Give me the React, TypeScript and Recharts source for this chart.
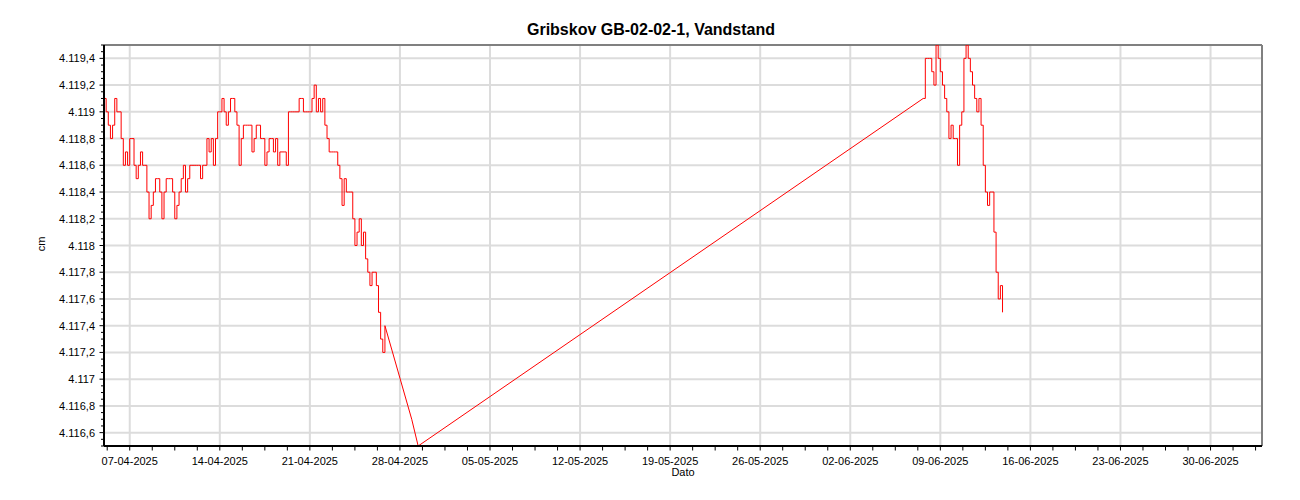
import React from 'react';
import { LineChart, Line, XAxis, YAxis, CartesianGrid, ReferenceLine } from 'recharts';

const HOUR = 3600000;

// ---- data ----
const aprilStart = '2025-04-05T00:00:00Z';
const juneStart = '2025-06-07T16:00:00Z';
const sampleStepHours = 4;

const aprilValues = [
  4119.1, 4119.0, 4118.9, 4118.8, 4118.9, 4119.1, 4119.0, 4119.0, 4118.8, 4118.6,
  4118.7, 4118.6, 4118.8, 4118.8, 4118.6, 4118.5, 4118.6, 4118.7, 4118.6, 4118.6,
  4118.4, 4118.2, 4118.3, 4118.4, 4118.5, 4118.5, 4118.4, 4118.2, 4118.4, 4118.5,
  4118.5, 4118.5, 4118.4, 4118.2, 4118.3, 4118.4, 4118.5, 4118.6, 4118.4, 4118.5,
  4118.6, 4118.6, 4118.6, 4118.6, 4118.6, 4118.5, 4118.6, 4118.6, 4118.8, 4118.7,
  4118.8, 4118.6, 4118.8, 4119.0, 4119.0, 4119.1, 4119.0, 4118.9, 4119.0, 4119.1,
  4119.1, 4119.0, 4118.9, 4118.6, 4118.8, 4118.9, 4118.9, 4118.9, 4118.9, 4118.7,
  4118.8, 4118.9, 4118.9, 4118.8, 4118.8, 4118.6, 4118.7, 4118.8, 4118.8, 4118.7,
  4118.8, 4118.6, 4118.7, 4118.7, 4118.7, 4118.6, 4119.0, 4119.0, 4119.0, 4119.0,
  4119.0, 4119.1, 4119.1, 4119.0, 4119.0, 4119.0, 4119.0, 4119.1, 4119.2, 4119.0,
  4119.1, 4119.0, 4119.1, 4118.9, 4118.8, 4118.7, 4118.7, 4118.7, 4118.7, 4118.6,
  4118.5, 4118.3, 4118.5, 4118.4, 4118.4, 4118.4, 4118.2, 4118.0, 4118.1, 4118.2,
  4118.0, 4118.1, 4117.9, 4117.8, 4117.7, 4117.8, 4117.8, 4117.7, 4117.5, 4117.3,
  4117.2, 4117.4,
];

const gapTimes = ['2025-04-28T22:00:00Z', '2025-04-29T10:00:00Z'];
const gapValues = [4116.7, 4116.5];

const juneValues = [
  4119.1, 4119.4, 4119.4, 4119.4, 4119.3, 4119.2, 4119.5, 4119.4, 4119.3, 4119.2,
  4119.1, 4119.0, 4118.8, 4118.9, 4118.8, 4118.8, 4118.6, 4118.9, 4119.0, 4119.4,
  4119.5, 4119.4, 4119.3, 4119.2, 4119.1, 4119.0, 4119.1, 4118.9, 4118.6, 4118.4,
  4118.3, 4118.4, 4118.4, 4118.1, 4117.8, 4117.6, 4117.7, 4117.5,
];

// ---- axes ----
const xDomainStart = '2025-04-05T00:00:00Z';
const xDomainEnd = '2025-07-04T00:00:00Z';
const xMajorTickDates = [
  '2025-04-07', '2025-04-14', '2025-04-21', '2025-04-28', '2025-05-05', '2025-05-12',
  '2025-05-19', '2025-05-26', '2025-06-02', '2025-06-09', '2025-06-16', '2025-06-23',
  '2025-06-30',
];
const xMinorStepHours = 42;
const yDomain = [4116.5, 4119.5];
const yMajorTicks = [
  4116.6, 4116.8, 4117, 4117.2, 4117.4, 4117.6, 4117.8, 4118, 4118.2, 4118.4,
  4118.6, 4118.8, 4119, 4119.2, 4119.4,
];
const yMinorStep = 0.05;

const titleText = 'Gribskov GB-02-02-1, Vandstand';
const xLabelText = 'Dato';
const yLabelText = 'cm';

// ---- build ----
const t0 = Date.parse(aprilStart);
const tJ = Date.parse(juneStart);
const stepMs = sampleStepHours * HOUR;
const data = [
  ...aprilValues.map((v, i) => ({
    t: t0 + i * stepMs,
    v,
    b: i === aprilValues.length - 1 ? v : null,
  })),
  ...gapTimes.map((s, i) => ({ t: Date.parse(s), v: null, b: gapValues[i] })),
  ...juneValues.map((v, i) => ({ t: tJ + i * stepMs, v, b: i === 0 ? v : null })),
];

const xMin = Date.parse(xDomainStart);
const xMax = Date.parse(xDomainEnd);
const xMajor = xMajorTickDates.map((d) => Date.parse(d + 'T00:00:00Z'));
const xAllTicks: number[] = [];
for (let t = xMajor[0]; t >= xMin; t -= xMinorStepHours * HOUR) xAllTicks.unshift(t);
for (let t = xMajor[0] + xMinorStepHours * HOUR; t <= xMax; t += xMinorStepHours * HOUR) xAllTicks.push(t);

const yAllTicks: number[] = [];
for (let k = 0; yDomain[0] + k * yMinorStep <= yDomain[1] + 1e-9; k++) {
  yAllTicks.push(Math.round((yDomain[0] + k * yMinorStep) * 100) / 100);
}

const isYMajor = (v: number) => yMajorTicks.some((m) => Math.abs(m - v) < 1e-6);
const isXMajor = (v: number) => xMajor.some((m) => Math.abs(m - v) < 1000);

const fmtY = (v: number) => {
  const s = v.toFixed(1);
  const [ip, dp] = s.split('.');
  const intStr = ip.replace(/\B(?=(\d{3})+(?!\d))/g, '.');
  return dp === '0' ? intStr : intStr + ',' + dp;
};
const pad = (n: number) => (n < 10 ? '0' + n : '' + n);
const fmtX = (t: number) => {
  const d = new Date(t);
  return pad(d.getUTCDate()) + '-' + pad(d.getUTCMonth() + 1) + '-' + d.getUTCFullYear();
};

const FONT = '"Liberation Sans", Arial, sans-serif';

const YTick = (props: any) => {
  const { x, y, payload } = props;
  const major = isYMajor(payload.value);
  return (
    <g>
      <line x1={x - (major ? 4.5 : 3)} x2={x} y1={y} y2={y} stroke="#000" strokeWidth={1} />
      {major && (
        <text x={x - 9} y={y + 4} textAnchor="end" fontSize={11} fontFamily={FONT} fill="#000">
          {fmtY(payload.value)}
        </text>
      )}
    </g>
  );
};

const XTick = (props: any) => {
  const { x, y, payload } = props;
  const major = isXMajor(payload.value);
  return (
    <g>
      <line x1={x} x2={x} y1={y} y2={y + 4.5} stroke="#000" strokeWidth={1} />
      {major && (
        <text x={x} y={y + 18.5} textAnchor="middle" fontSize={11} fontFamily={FONT} fill="#000">
          {fmtX(payload.value)}
        </text>
      )}
    </g>
  );
};

const W = 1284;
const H = 484;

export default function App() {
  return (
    <div style={{ position: 'relative', width: W, height: H }}>
      <LineChart
        width={W}
        height={H}
        data={data}
        margin={{ top: 37, right: 30, bottom: 16, left: 36 }}
      >
        <CartesianGrid
          stroke="#dcdcdc"
          strokeWidth={2}
          horizontalValues={yMajorTicks}
          verticalValues={xMajor}
        />
        <XAxis
          dataKey="t"
          type="number"
          scale="linear"
          domain={[xMin, xMax]}
          allowDataOverflow
          ticks={xAllTicks}
          interval={0}
          height={30}
          tickSize={0}
          tickMargin={0}
          tickLine={false}
          axisLine={{ stroke: '#000', strokeWidth: 2 }}
          tick={<XTick />}
        />
        <YAxis
          type="number"
          domain={yDomain}
          allowDataOverflow
          ticks={yAllTicks}
          interval={0}
          width={60}
          tickSize={0}
          tickMargin={0}
          tickLine={false}
          axisLine={{ stroke: '#000', strokeWidth: 2 }}
          tick={<YTick />}
        />
        <ReferenceLine y={yDomain[1]} stroke="#808080" strokeWidth={2} />
        <ReferenceLine x={xMax} stroke="#808080" strokeWidth={2} />
        <Line
          dataKey="b"
          type="linear"
          stroke="#ff0000"
          strokeWidth={1}
          dot={false}
          activeDot={false}
          connectNulls
          isAnimationActive={false}
        />
        <Line
          dataKey="v"
          type="stepAfter"
          stroke="#ff0000"
          strokeWidth={1}
          dot={false}
          activeDot={false}
          isAnimationActive={false}
        />
      </LineChart>
      <svg
        width={W}
        height={H}
        style={{ position: 'absolute', left: 0, top: 0, pointerEvents: 'none' }}
      >
        <text x={643} y={27} textAnchor="middle" fontSize={16} fontWeight="bold" fontFamily={FONT} fill="#000">
          {titleText}
        </text>
        <text x={675} y={468.3} textAnchor="middle" fontSize={11} fontFamily={FONT} fill="#000">
          {xLabelText}
        </text>
        <text
          x={0}
          y={0}
          transform="translate(37, 236) rotate(-90)"
          textAnchor="middle"
          fontSize={11}
          fontFamily={FONT}
          fill="#000"
        >
          {yLabelText}
        </text>
      </svg>
    </div>
  );
}
